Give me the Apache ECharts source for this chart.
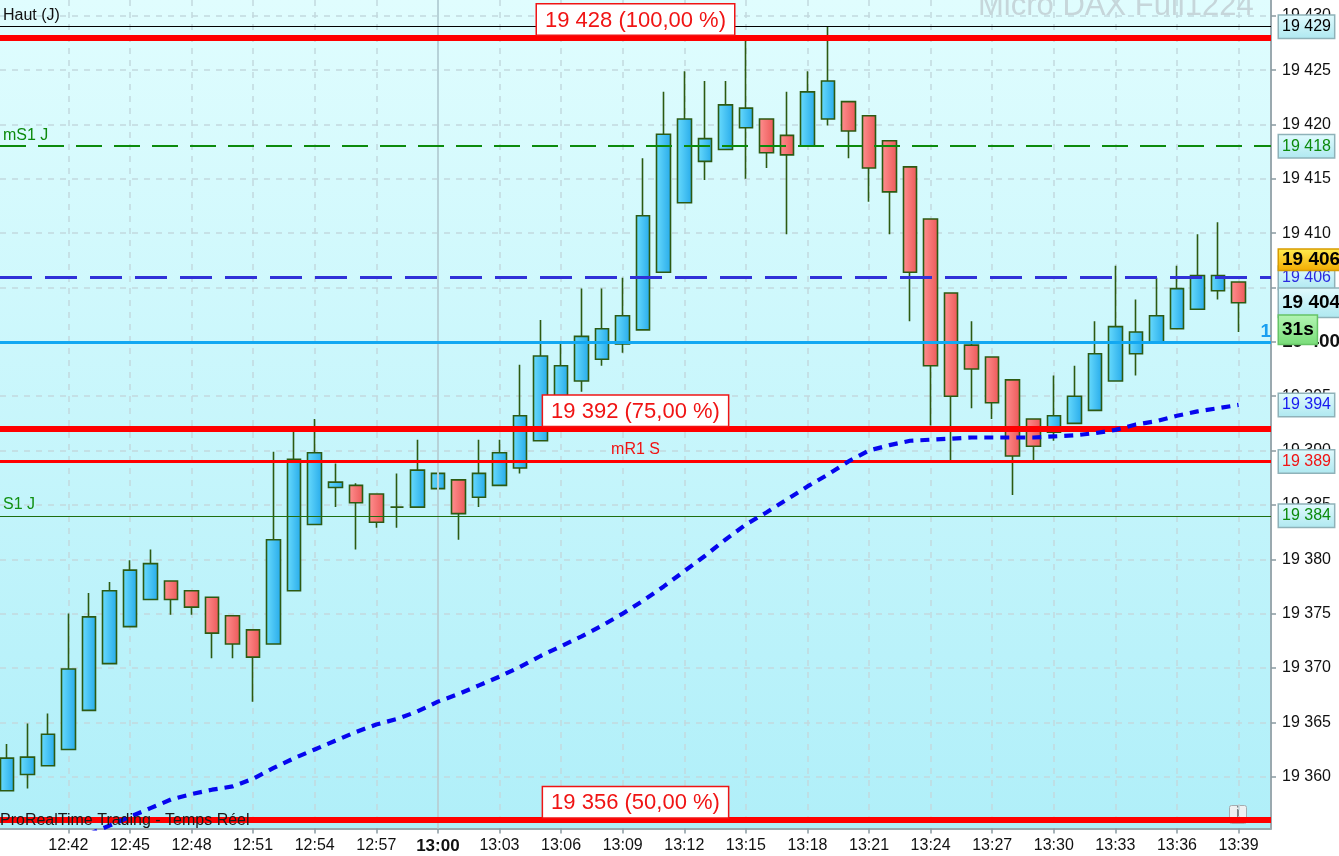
<!DOCTYPE html>
<html>
<head>
<meta charset="utf-8">
<script src="https://cdn.jsdelivr.net/npm/echarts@6/dist/echarts.min.js"></script>
<style>
  html, body { margin: 0; padding: 0; background: #fff; }
  #chart { width: 1339px; height: 856px; }
</style>
</head>
<body>
<div id="chart"></div>
<script>
// one candle per minute, 12:39 -> 13:39
var times = ['12:39','12:40','12:41','12:42','12:43','12:44','12:45','12:46','12:47','12:48',
  '12:49','12:50','12:51','12:52','12:53','12:54','12:55','12:56','12:57','12:58',
  '12:59','13:00','13:01','13:02','13:03','13:04','13:05','13:06','13:07','13:08',
  '13:09','13:10','13:11','13:12','13:13','13:14','13:15','13:16','13:17','13:18',
  '13:19','13:20','13:21','13:22','13:23','13:24','13:25','13:26','13:27','13:28',
  '13:29','13:30','13:31','13:32','13:33','13:34','13:35','13:36','13:37','13:38','13:39'];

var opens = [19358.7,19360.2,19361.0,19362.5,19366.1,19370.4,19373.8,19376.3,19378.0,19377.1,
  19376.5,19374.8,19373.5,19372.2,19377.1,19383.2,19386.6,19386.8,19386.0,19384.8,
  19384.8,19386.5,19387.3,19385.7,19386.8,19388.4,19390.9,19394.5,19396.4,19398.4,
  19399.8,19401.1,19406.4,19412.8,19416.6,19417.7,19419.7,19420.5,19419.0,19418.0,
  19420.5,19422.1,19420.8,19418.5,19416.1,19411.3,19404.5,19399.7,19398.6,19396.5,
  19392.9,19391.7,19392.5,19393.7,19396.4,19398.9,19400.0,19401.2,19403.0,19404.7,19405.5];
var closes = [19361.7,19361.8,19363.9,19369.9,19374.7,19377.1,19379.0,19379.6,19376.3,19375.6,
  19373.2,19372.2,19371.0,19381.8,19389.2,19389.8,19387.1,19385.2,19383.4,19384.8,
  19388.2,19387.9,19384.2,19387.9,19389.8,19393.2,19398.7,19397.8,19400.5,19401.2,
  19402.4,19411.6,19419.1,19420.5,19418.7,19421.8,19421.5,19417.4,19417.2,19423.0,
  19424.0,19419.4,19416.0,19413.8,19406.4,19397.8,19395.0,19397.5,19394.4,19389.5,
  19390.4,19393.2,19395.0,19398.9,19401.4,19400.9,19402.4,19404.9,19406.1,19406.1,19403.6];
var lows = [19358.7,19358.9,19361.0,19362.5,19366.1,19370.4,19373.8,19376.3,19374.9,19374.9,
  19370.9,19370.9,19366.9,19372.2,19377.1,19383.2,19384.8,19380.9,19382.9,19382.9,
  19384.8,19386.5,19381.8,19384.8,19386.8,19387.9,19390.9,19394.5,19395.4,19397.8,
  19399.0,19401.1,19406.4,19412.8,19414.9,19417.7,19415.0,19416.0,19409.9,19418.0,
  19419.9,19416.9,19412.9,19409.9,19401.9,19392.3,19389.0,19393.9,19392.9,19385.9,
  19389.0,19390.9,19392.5,19393.7,19396.4,19396.9,19400.0,19401.2,19403.0,19403.9,19400.9];
var highs = [19363.0,19364.9,19365.8,19375.0,19376.9,19377.9,19379.9,19380.9,19378.0,19377.1,
  19376.5,19374.8,19373.5,19389.9,19391.7,19392.9,19388.8,19387.0,19386.0,19387.9,
  19391.0,19387.9,19387.3,19391.0,19391.0,19397.9,19402.0,19399.8,19404.9,19404.9,
  19405.9,19416.9,19423.0,19424.9,19424.0,19424.0,19427.8,19420.5,19423.0,19424.9,
  19429.0,19422.1,19420.8,19418.5,19416.1,19411.3,19404.5,19401.9,19398.6,19396.5,
  19392.9,19396.9,19397.8,19401.9,19407.0,19403.9,19405.9,19407.0,19409.9,19411.0,19405.5];

// moving average (starts at 12:43, below the visible range)
var maStart = 4;
var maValues = [19354.7,19355.5,19356.3,19357.1,19357.9,19358.4,19358.8,19359.1,19359.8,19360.8,
  19361.7,19362.5,19363.3,19364.1,19364.8,19365.3,19366.0,19366.9,19367.6,19368.4,
  19369.2,19370.1,19371.1,19372.0,19372.9,19373.9,19375.0,19376.2,19377.5,19378.9,
  19380.3,19381.8,19383.2,19384.3,19385.5,19386.7,19387.8,19389.0,19390.0,19390.5,
  19390.9,19391.0,19391.1,19391.2,19391.2,19391.2,19391.2,19391.3,19391.4,19391.6,
  19391.9,19392.4,19392.7,19393.2,19393.6,19393.9,19394.2];

var yTicks = [19360,19365,19370,19375,19380,19385,19390,19395,19400,19405,19410,19415,19420,19425,19430];
var xTickLabels = ['12:42','12:45','12:48','12:51','12:54','12:57','13:00','13:03','13:06','13:09',
  '13:12','13:15','13:18','13:21','13:24','13:27','13:30','13:33','13:36','13:39'];

// horizontal levels
var hautLevel = 19429;
var fibLevels = [19428, 19392, 19356];
var fibLabels = ['19 428 (100,00 %)', '19 392 (75,00 %)', '19 356 (50,00 %)'];
var ms1Level = 19418;
var mr1Level = 19389;
var s1Level = 19384;
var dashLevel = 19405.9;
var roundLevel = 19400;

function fmtPrice(v) {
  var n = Math.round(v);
  var t = Math.floor(n / 1000);
  var r = String(n % 1000);
  while (r.length < 3) r = '0' + r;
  return t + ' ' + r;
}

var candles = times.map(function (t, i) {
  return [i, opens[i], closes[i], lows[i], highs[i]];
});
var maData = maValues.map(function (v, k) {
  return [maStart + k, v];
});
var xTickIdx = xTickLabels.map(function (t) { return times.indexOf(t); });
var lastClose = closes[closes.length - 1];
var maLast = maValues[maValues.length - 1];

var FONT = 'Liberation Sans, Arial, sans-serif';
var boxBg = new echarts.graphic.LinearGradient(0, 0, 0, 1, [
  { offset: 0, color: '#e2fbfe' }, { offset: 1, color: '#aee8f0' }
]);

function axisBox(text, color, extra) {
  var l = {
    show: true, position: 'end', distance: 8, formatter: text,
    color: color, fontSize: 16, fontFamily: FONT,
    backgroundColor: boxBg, borderColor: '#8fb2b9', borderWidth: 1.5,
    padding: [4, 3, 2, 3]
  };
  for (var k in extra) l[k] = extra[k];
  return l;
}
// the line is not drawn, only its label on the price axis
function hidden() { return { color: 'rgba(0,0,0,0)', width: 0, type: 'solid' }; }
function midBox(text) {
  return {
    show: true, position: 'insideMiddleTop', distance: 3, formatter: text,
    color: '#f01414', fontSize: 22, fontFamily: FONT,
    backgroundColor: '#ffffff', borderColor: '#f01414', borderWidth: 1.5,
    padding: [5, 8, 3, 8]
  };
}
function leftText(text, color) {
  return {
    show: true, position: 'insideStartTop', distance: [3, 3], formatter: text,
    color: color, fontSize: 16, fontFamily: FONT
  };
}

var levelLines = [
  { yAxis: hautLevel, lineStyle: { color: '#000', width: 1.2, type: 'solid' }, label: leftText('Haut (J)', '#111') },
  { yAxis: hautLevel, lineStyle: hidden(), label: axisBox('19 429', '#000') },
  { yAxis: ms1Level, lineStyle: { color: '#0c8a0c', width: 2, type: [26, 12] }, label: leftText('mS1 J', '#0c8a0c') },
  { yAxis: ms1Level, lineStyle: hidden(), label: axisBox('19 418', '#0c8a0c') },
  { yAxis: dashLevel, lineStyle: { color: '#3030d8', width: 3.2, type: [32, 13] }, label: axisBox('19 406', '#2a2ae0') },
  { yAxis: dashLevel, lineStyle: hidden(), label: axisBox('19 406', '#000', {
      fontSize: 19, fontWeight: 'bold', offset: [0, -18], padding: [1, 3, 0, 3],
      backgroundColor: new echarts.graphic.LinearGradient(0, 0, 0, 1, [
        { offset: 0, color: '#ffec50' }, { offset: 1, color: '#f2aa00' }]),
      borderColor: '#d89c00' }) },
  { yAxis: roundLevel, lineStyle: { color: '#12a8f2', width: 3, type: 'solid' }, label: {
      show: true, position: 'insideEndTop', distance: [0, 1], formatter: '1',
      color: '#1a9ff0', fontSize: 19, fontWeight: 'bold', fontFamily: FONT } },
  { yAxis: lastClose, lineStyle: hidden(), label: axisBox('19 404', '#000', {
      fontSize: 19, fontWeight: 'bold', padding: [5, 3, 4, 3] }) },
  { yAxis: lastClose, lineStyle: hidden(), label: axisBox('31s', '#000', {
      fontSize: 19, fontWeight: 'bold', offset: [0, 27], padding: [5, 3, 4, 3],
      backgroundColor: new echarts.graphic.LinearGradient(0, 0, 0, 1, [
        { offset: 0, color: '#b4f5b4' }, { offset: 1, color: '#78dc78' }]),
      borderColor: '#66c466' }) },
  { yAxis: maLast, lineStyle: hidden(), label: axisBox('19 394', '#1818f0') },
  { yAxis: mr1Level, lineStyle: { color: '#ff0000', width: 2.8, type: 'solid' }, label: {
      show: true, position: 'insideMiddleTop', distance: 4, formatter: 'mR1 S',
      color: '#f01414', fontSize: 16, fontFamily: FONT } },
  { yAxis: mr1Level, lineStyle: hidden(), label: axisBox('19 389', '#f01414') },
  { yAxis: s1Level, lineStyle: { color: '#1f6e10', width: 1.2, type: 'solid' }, label: leftText('S1 J', '#129012') },
  { yAxis: s1Level, lineStyle: hidden(), label: axisBox('19 384', '#0c8a0c') }
];
fibLevels.forEach(function (v, k) {
  levelLines.push({ yAxis: v, lineStyle: { color: '#ff0000', width: 6, type: 'solid' }, label: midBox(fibLabels[k]) });
});

var chart = echarts.init(document.getElementById('chart'));
var option = {
  animation: false,
  backgroundColor: '#ffffff',
  textStyle: { fontFamily: FONT },
  title: [
    {
      text: 'Micro DAX Full1224', left: 973, top: -14,
      textStyle: { color: '#c6d6da', fontSize: 31, fontWeight: 'normal', fontFamily: FONT }
    },
    {
      text: 'ProRealTime Trading - Temps Réel', left: 0, top: 813, padding: 0, z: 10,
      textStyle: { color: '#1a1a1a', fontSize: 16, fontWeight: 'normal', fontFamily: FONT }
    }
  ],
  grid: {
    left: 0, right: 68, top: 0, bottom: 27.5,
    outerBoundsMode: 'none',
    show: true, borderWidth: 0,
    backgroundColor: new echarts.graphic.LinearGradient(0, 0, 0, 1, [
      { offset: 0, color: '#e0fdfe' }, { offset: 1, color: '#b0eff9' }
    ])
  },
  graphic: [{
    type: 'group', left: 1229, top: 805, z: 1,
    children: [
      { type: 'rect', shape: { x: 0, y: 0, width: 17, height: 18, r: 2 },
        style: { fill: '#eef1f2', stroke: '#a4acb0', lineWidth: 1 } },
      { type: 'text', style: { x: 8.5, y: 1, text: 'i', fill: '#7a8286', fontSize: 14,
        fontWeight: 'bold', align: 'center', fontFamily: FONT } }
    ]
  }],
  xAxis: {
    type: 'value', min: -0.33, max: 61.58,
    axisLine: { onZero: false, lineStyle: { color: '#9aa9af', width: 2 } },
    axisTick: { show: true, customValues: xTickIdx, length: 5, lineStyle: { color: '#8b9ba1', width: 1.5 } },
    axisLabel: {
      customValues: xTickIdx, margin: 9, fontSize: 16, color: '#111', fontFamily: FONT,
      formatter: function (v) {
        var t = times[Math.round(v)];
        return t === '13:00' ? '{b|' + t + '}' : t;
      },
      rich: { b: { fontSize: 17, fontWeight: 'bold', color: '#111', fontFamily: FONT } }
    },
    splitLine: { show: true, lineStyle: { color: '#c2d9de', width: 1.5, type: [6, 6] } }
  },
  yAxis: {
    type: 'value', position: 'right', min: 19355.23, max: 19431.45, scale: true,
    axisLine: { show: true, onZero: false, lineStyle: { color: '#9aa9af', width: 2 } },
    axisTick: { show: true, customValues: yTicks, length: 5, lineStyle: { color: '#8b9ba1', width: 1.5 } },
    axisLabel: {
      customValues: yTicks, margin: 11, fontSize: 16, color: '#111', fontFamily: FONT,
      formatter: function (v) {
        return v === 19400 ? '{b|' + fmtPrice(v) + '}' : fmtPrice(v);
      },
      rich: { b: { fontSize: 19, fontWeight: 'bold', color: '#111', fontFamily: FONT } }
    },
    splitLine: { show: true, lineStyle: { color: '#c2d9de', width: 1.5, type: [6, 6] } }
  },
  series: [
    {
      name: 'sep', type: 'line', data: [], z: 1, silent: true,
      markLine: {
        silent: true, symbol: ['none', 'none'], animation: false,
        data: [{ xAxis: times.indexOf('13:00'), lineStyle: { color: '#b7d2d8', width: 2, type: 'solid' }, label: { show: false } }]
      }
    },
    {
      name: 'Micro DAX', type: 'candlestick', z: 3,
      data: candles,
      encode: { x: 0, y: [1, 2, 3, 4] },
      barWidth: 14,
      itemStyle: {
        color: new echarts.graphic.LinearGradient(0, 0, 1, 0, [
          { offset: 0, color: '#6adcfd' }, { offset: 1, color: '#26aaea' }]),
        color0: new echarts.graphic.LinearGradient(0, 0, 1, 0, [
          { offset: 0, color: '#ff9090' }, { offset: 1, color: '#ec5858' }]),
        borderColor: '#2c5a12',
        borderColor0: '#2c5a12',
        borderWidth: 1.6
      }
    },
    {
      name: 'niveaux', type: 'line', data: [], z: 4, silent: true,
      markLine: { silent: true, symbol: ['none', 'none'], animation: false, data: levelLines }
    },
    {
      name: 'MM', type: 'line', z: 5, data: maData, symbol: 'none', silent: true,
      lineStyle: { color: '#0606ee', width: 4.2, type: [9, 7] }
    }
  ]
};
chart.setOption(option);
</script>
</body>
</html>
